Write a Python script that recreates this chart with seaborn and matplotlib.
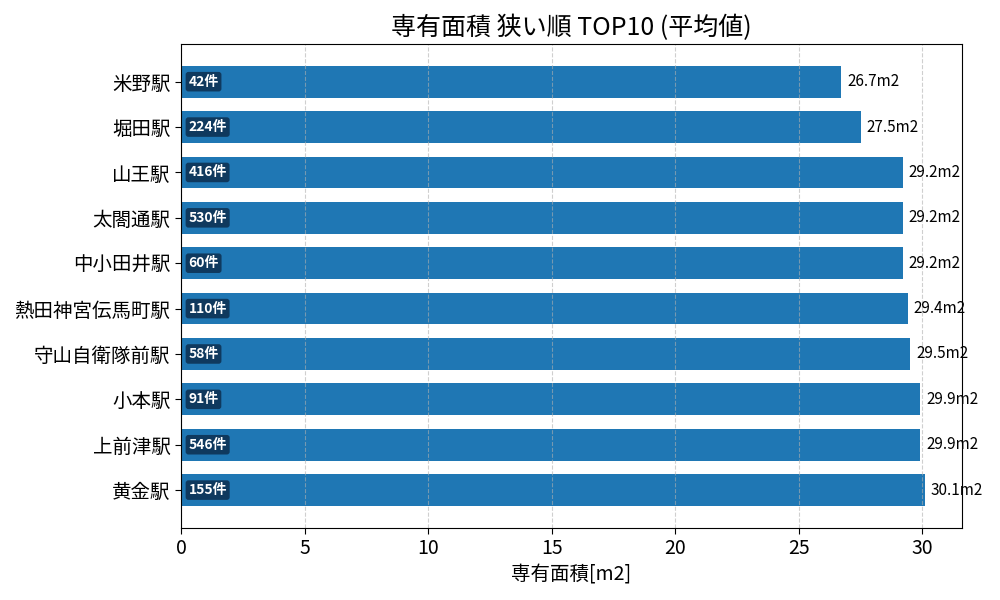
import numpy as np
import pandas as pd
import seaborn as sns
import matplotlib.pyplot as plt

stations = ['米野駅', '堀田駅', '山王駅', '太閤通駅', '中小田井駅', '熱田神宮伝馬町駅',
            '守山自衛隊前駅', '小本駅', '上前津駅', '黄金駅']
areas = [26.7, 27.5, 29.2, 29.2, 29.2, 29.4, 29.5, 29.9, 29.9, 30.1]
counts = [42, 224, 416, 530, 60, 110, 58, 91, 546, 155]

df = pd.DataFrame({'station': stations, 'area': areas, 'count': counts})

sns.set_style('white', {'text.color': 'black', 'axes.labelcolor': 'black',
                        'xtick.color': 'black', 'ytick.color': 'black'})
plt.rcParams['font.family'] = ['Noto Sans CJK JP', 'DejaVu Sans']

fig, ax = plt.subplots(figsize=(10, 6), dpi=100)
sns.barplot(data=df, y='station', x='area', color='#1f77b4', saturation=1,
            width=0.7, orient='h', linewidth=0, ax=ax)

for i, (a, c) in enumerate(zip(areas, counts)):
    ax.text(a + 0.25, i, f'{a:.1f}m2', va='center', ha='left', fontsize=11, color='black')
    ax.text(0.3, i, f'{c}件', va='center', ha='left', fontsize=10, color='white',
            fontweight='bold',
            bbox=dict(boxstyle='round,pad=0.2', facecolor='#0d2f4f', alpha=0.85, edgecolor='none'))

ax.set_xlim(0, max(areas) * 1.05)
ax.set_ylim(len(stations) - 0.165, -0.835)
ax.set_axisbelow(False)
ax.grid(axis='x', linestyle='--', color='#b0b0b0', alpha=0.6)
ax.set_title('専有面積 狭い順 TOP10 (平均値)', fontsize=18, color='black')
ax.set_xlabel('専有面積[m2]', fontsize=14)
ax.set_ylabel('')
ax.tick_params(axis='both', labelsize=14, length=4, left=True, bottom=True)
for s in ax.spines.values():
    s.set_color('black')
    s.set_zorder(4)

fig.subplots_adjust(left=0.181, right=0.962, top=0.927, bottom=0.12)
fig.savefig('out.png')
